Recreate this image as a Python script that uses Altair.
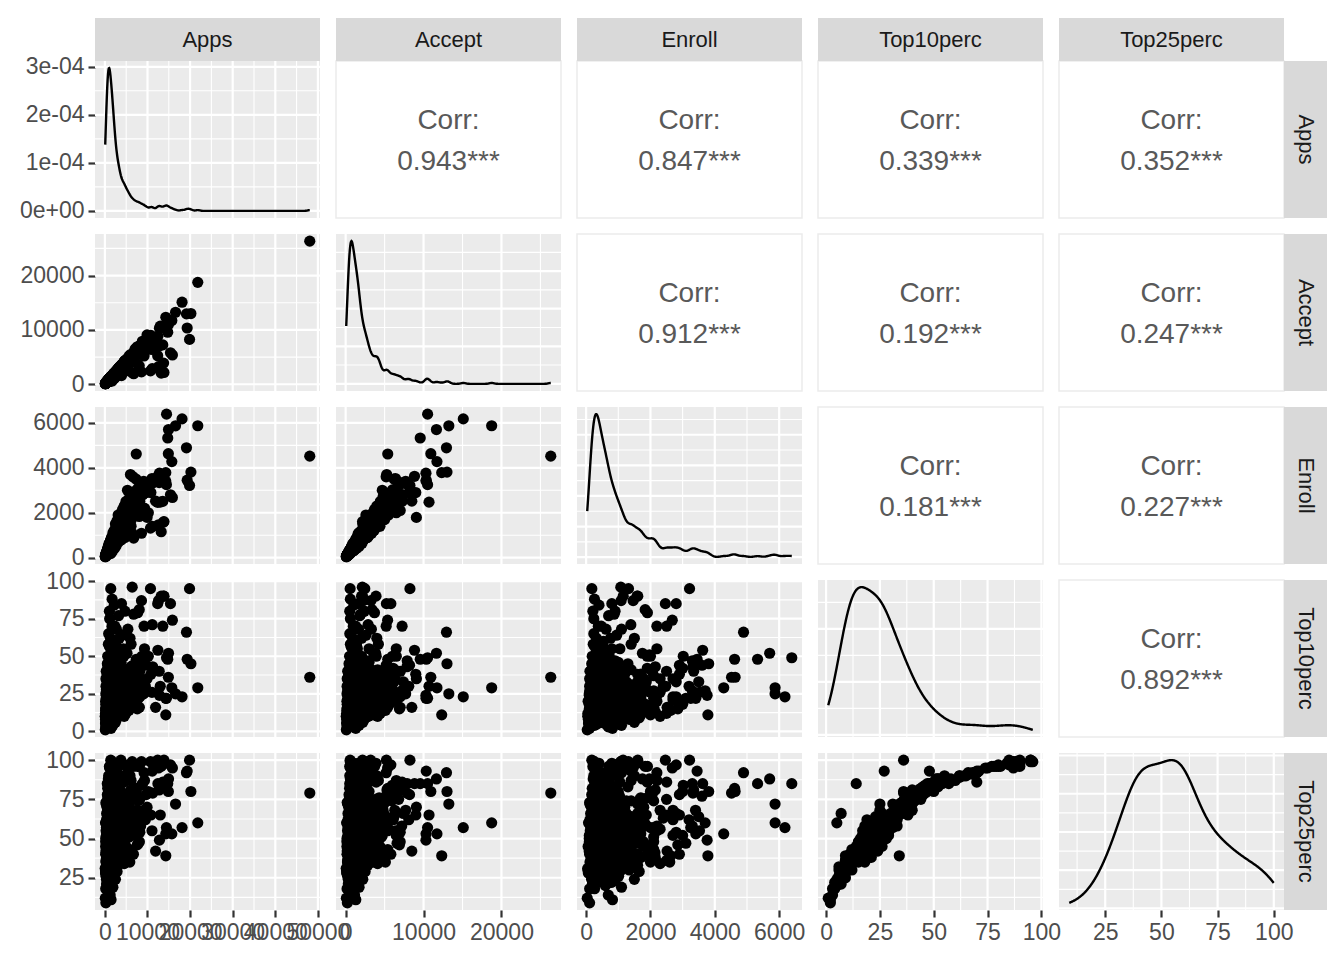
import altair as alt
import numpy as np
import pandas as pd

var_names = ["Apps", "Accept", "Enroll", "Top10perc", "Top25perc"]

apps = [
    48094, 21804, 20192, 19873, 19315, 19152, 18114, 16587, 15849, 15712,
    14939, 14901, 14752, 14474, 14446, 14292, 14300, 13865, 13789, 13594,
    13218, 12809, 12749, 12586, 12445, 11054, 11220, 10705, 12394, 11901,
    11115, 15400, 13000, 10200, 10800,
    5100, 5250, 5400, 5550, 5700, 5850, 6000, 6150, 6300, 6411,
    6500, 6700, 6756, 6900, 7100, 7365, 7500, 7700, 7850, 8065,
    8200, 8400, 8587, 8700, 8900, 9100, 9300, 9500, 9700, 9900,
    5300, 5900, 6600, 7300, 8100, 9200,
    81, 100, 141, 152, 178, 191, 202, 227, 233, 245,
    257, 268, 285, 297, 305, 318, 333, 346, 358, 372,
    385, 397, 410, 422, 436, 448, 461, 475, 486, 497,
    505, 512, 520, 528, 536, 545, 553, 561, 570, 578,
    587, 595, 604, 612, 621, 630, 638, 647, 655, 664,
    672, 681, 690, 698, 707, 716, 724, 733, 742, 750,
    759, 768, 776, 785, 794, 803, 812, 821, 830, 839,
    848, 857, 866, 875, 884, 893, 902, 912, 921, 930,
    940, 950, 960, 975, 990,
    1005, 1020, 1034, 1050, 1066, 1081, 1097, 1113, 1130, 1146,
    1163, 1180, 1197, 1215, 1232, 1250, 1268, 1287, 1305, 1324,
    1343, 1377, 1382, 1402, 1422, 1443, 1463, 1484, 1505, 1527,
    1549, 1571, 1594, 1617, 1640, 1664, 1688, 1712, 1737, 1762,
    1788, 1814, 1840, 1867, 1894, 1921, 1949, 1977, 1990, 1060,
    1240, 1450, 1700, 1120, 1880,
    2010, 2050, 2090, 2130, 2170, 2210, 2250, 2290, 2330, 2339,
    2380, 2420, 2470, 2510, 2560, 2600, 2650, 2700, 2750, 2800,
    2850, 2900, 2950, 3000, 3050, 3100, 3150, 3200, 3250, 3300,
    3350, 3400, 3450, 3480, 2200, 2620, 3120, 2480, 3380, 2860,
    3520, 3580, 3640, 3700, 3760, 3820, 3880, 3950, 4010, 4080,
    4150, 4220, 4300, 4380, 4460, 4540, 4620, 4700, 4780, 4860,
    4940, 3900,
    420, 610, 780, 950, 1150, 1350, 1600, 1850, 2100, 2400,
    300, 520, 700, 880, 1050, 1260, 1480, 1720, 1950, 2250,
    2600, 4200, 3300, 4700, 6200, 7400, 620, 820, 1020, 1220,
    1420, 1620, 1820, 2020, 2220, 2520, 4650, 3120, 4450, 5600,
    360, 560, 760, 960, 1160, 1360, 1560, 1760, 1960, 2160,
    2460, 4400, 3060, 3460, 5650, 6800, 8200, 480, 680, 880,
    1080, 1280, 1480, 1680, 1880, 2080, 2380, 4100, 5200, 3280,
    4150, 7600, 5300, 7800, 250, 450, 650, 850, 1050, 1250,
    1450, 1650, 1850, 2050, 2350, 5500, 4800, 3250, 4950, 6500,
    560, 760, 960, 1160, 1360, 1560, 1760, 1960, 2160, 2460,
    4300, 3060, 3460, 6650, 5900, 650, 850, 1050, 1250, 1450,
    1650, 1850, 2050, 2250, 4550, 5800, 3150, 4350, 5450, 8800,
    540, 740, 940, 1140, 1340, 1540, 1740, 1940, 2140, 2440,
    4900, 3040, 3440, 5350, 6100, 590, 790, 990, 1190, 1390,
    1590, 1790, 1990, 2290, 4250, 5150, 3190, 4600, 5000, 7100,
    180, 240, 310, 390, 460, 530, 590, 660, 720, 790,
    850, 910, 970, 1030, 1090, 1150, 1210, 1270, 1330, 1390,
    1450, 1510, 1570, 1630, 1690, 1750, 1810, 1870, 1930, 1990,
    2100, 2220, 2340, 2460, 2580, 2700, 2820, 2940, 3060, 3180,
    3300, 3450, 3600, 3800, 4000, 4250, 4500, 4800, 5200, 5700,
    200, 280, 350, 430, 500, 570, 640, 710, 780, 860,
    930, 1000, 1070, 1140, 1210, 1280, 1350, 1420, 1490, 1560,
    1630, 1700, 1780, 1860, 1940, 2020, 2150, 2280, 2410, 2540,
    2670, 2800, 2930, 3060, 3200, 3350, 3500, 3700, 3900, 4100,
    150, 220, 290, 370, 450, 520, 600, 680, 760, 840,
    920, 1010, 1100, 1190, 1280, 1370, 1460, 1550, 1640, 1730,
    1820, 1910, 2000, 2130, 2260, 2390, 2520, 2650, 2780, 2910,
]

accept = [
    26330, 18744, 13007, 8252, 10344, 12940, 15096, 13243, 5384, 11719,
    11652, 10932, 9572, 10519, 10516, 10315, 12330, 2165, 3893, 7244,
    2042, 10308, 7025, 3239, 8836, 6397, 7871, 2453, 5232, 8492,
    2881, 5800, 10700, 6500, 9000,
    4300, 4600, 3300, 4800, 4900, 5100, 5270, 4200, 5400, 2140,
    5500, 5800, 1930, 5900, 6100, 5402, 6300, 3700, 6600, 3384,
    6800, 7200, 2273, 6000, 7400, 7700, 6500, 8100, 8200, 9080,
    4700, 4000, 5200, 6200, 7000, 5200,
    72, 90, 118, 128, 160, 165, 184, 172, 217, 208,
    183, 253, 231, 280, 272, 260, 301, 290, 320, 301,
    341, 356, 298, 370, 389, 402, 398, 412, 420, 450,
    445, 470, 389, 481, 452, 500, 469, 520, 491, 430,
    534, 522, 489, 570, 540, 583, 557, 586, 500, 611,
    590, 620, 561, 650, 624, 630, 512, 680, 651, 702,
    660, 590, 722, 688, 712, 730, 605, 752, 731, 780,
    700, 790, 762, 741, 530, 831, 790, 845, 760, 870,
    827, 880, 801, 903, 860,
    890, 940, 780, 960, 920, 1002, 935, 1021, 980, 720,
    1070, 1032, 990, 1120, 1080, 1160, 1090, 1150, 890, 1220,
    1170, 572, 1250, 1150, 1320, 1260, 1330, 1190, 1390, 1330,
    1380, 1240, 1480, 1410, 1460, 980, 1550, 1490, 1560, 1390,
    1650, 1590, 1650, 1200, 1730, 1680, 1750, 1600, 1830, 520,
    1140, 1300, 600, 610, 1720,
    1780, 1880, 1560, 1920, 1900, 2050, 1950, 1480, 2110, 1280,
    2100, 2200, 1900, 2260, 2280, 2390, 2300, 1650, 2450, 2390,
    2600, 2500, 2050, 2700, 2700, 2830, 2700, 1800, 2900, 2850,
    3050, 2900, 2400, 3100, 1050, 1400, 2600, 2200, 2050, 2500,
    3050, 3200, 2700, 3300, 3200, 3500, 3350, 2600, 3550, 3450,
    3700, 3650, 3000, 3900, 3850, 4100, 3950, 2400, 4200, 4100,
    4450, 1600,
    350, 420, 690, 520, 1010, 900, 1350, 1100, 1700, 1500,
    240, 310, 640, 800, 700, 1000, 1050, 1600, 1400, 2000,
    2100, 3330, 2600, 3680, 5000, 6100, 550, 610, 880, 1080,
    1100, 1500, 1560, 1500, 1900, 1800, 4290, 2400, 3920, 4300,
    330, 480, 560, 900, 850, 1250, 1200, 1450, 1800, 1600,
    2200, 3500, 2500, 2800, 5120, 5400, 7000, 430, 520, 760,
    1000, 920, 1400, 1300, 1600, 1900, 1700, 3670, 3840, 3000,
    2900, 6900, 4000, 5900, 200, 400, 600, 650, 950, 1150,
    1250, 1200, 1700, 1600, 2100, 4150, 4390, 2500, 4340, 4800,
    520, 720, 750, 1100, 1050, 1450, 1300, 1500, 2000, 1900,
    3900, 2800, 2700, 5700, 5400, 480, 810, 850, 1000, 1350,
    1450, 1450, 1850, 1800, 4100, 4680, 2900, 3550, 4400, 7900,
    410, 680, 860, 960, 1150, 1300, 1650, 1650, 1800, 2250,
    4110, 2600, 3200, 3900, 5300, 540, 720, 820, 1120, 1200,
    1350, 1600, 1700, 2100, 3610, 4450, 2700, 4230, 4300, 6500,
    150, 200, 270, 300, 400, 430, 520, 540, 610, 700,
    760, 700, 900, 820, 980, 1000, 950, 1150, 1100, 1200,
    1300, 1250, 1400, 1350, 1500, 1400, 1600, 1500, 1700, 1600,
    1800, 1900, 1950, 2200, 2100, 2300, 2400, 2500, 2600, 2700,
    2800, 2900, 3100, 3000, 3500, 3300, 3800, 3900, 4200, 4600,
    180, 250, 290, 380, 420, 500, 530, 640, 680, 720,
    820, 870, 1000, 950, 1100, 1050, 1250, 1150, 1380, 1300,
    1450, 1550, 1500, 1700, 1650, 1800, 1750, 2000, 2100, 2150,
    2300, 2500, 2400, 2700, 2600, 2900, 3000, 3100, 3300, 3400,
    130, 190, 240, 330, 380, 470, 560, 590, 700, 740,
    850, 900, 1020, 1050, 1150, 1200, 1350, 1300, 1500, 1550,
    1600, 1750, 1700, 1900, 2000, 2050, 2200, 2350, 2400, 2500,
]

enroll = [
    4520, 5874, 3810, 3215, 3450, 4893, 6180, 5873, 2678, 4277,
    5705, 4631, 5329, 6392, 3252, 3409, 3785, 1606, 1583, 2505,
    1153, 3761, 3343, 1462, 3623, 3524, 3320, 1317, 2464, 2517,
    1390, 2800, 2473, 2000, 2900,
    1600, 2200, 1100, 2000, 1700, 2600, 3700, 1400, 2200, 1078,
    1900, 2900, 871, 2400, 2700, 4615, 2300, 1906, 3100, 1836,
    2500, 3300, 1087, 3019, 2800, 3400, 2200, 3200, 2900, 1792,
    3000, 1500, 3600, 3500, 2100, 2200,
    51, 35, 55, 75, 100, 63, 122, 98, 109, 125,
    109, 166, 121, 175, 144, 120, 189, 154, 180, 153,
    195, 181, 140, 230, 211, 173, 220, 245, 201, 263,
    212, 290, 172, 267, 198, 316, 220, 275, 237, 175,
    330, 250, 206, 308, 260, 348, 227, 285, 190, 362,
    274, 320, 239, 390, 301, 255, 201, 402, 276, 350,
    310, 231, 430, 290, 355, 318, 222, 447, 300, 381,
    275, 468, 340, 301, 240, 452, 335, 402, 290, 489,
    350, 420, 305, 512, 372,
    388, 520, 300, 450, 370, 580, 341, 462, 402, 280,
    610, 430, 352, 560, 470, 700, 395, 505, 320, 640,
    470, 178, 560, 420, 780, 510, 590, 405, 720, 540,
    620, 455, 860, 580, 700, 380, 810, 600, 690, 490,
    920, 640, 750, 420, 880, 650, 780, 570, 1010, 210,
    690, 820, 260, 240, 1100,
    680, 980, 560, 850, 720, 1150, 760, 540, 1020, 470,
    820, 1190, 650, 960, 860, 1340, 900, 620, 1100, 850,
    1420, 990, 720, 1300, 980, 1600, 1080, 700, 1250, 1050,
    1700, 1150, 900, 1450, 400, 520, 1900, 1500, 760, 1650,
    1250, 1600, 900, 1400, 1150, 2000, 1300, 950, 1500, 1200,
    2150, 1400, 1050, 1700, 1400, 2300, 1500, 900, 1850, 1400,
    2500, 800,
    190, 150, 420, 210, 350, 520, 420, 600, 500, 900,
    130, 120, 230, 520, 300, 300, 600, 650, 420, 700,
    1000, 1090, 1200, 2030, 1700, 3000, 300, 250, 480, 380,
    450, 800, 520, 720, 1000, 600, 2140, 900, 1900, 1850,
    160, 260, 200, 610, 330, 760, 380, 600, 850, 550,
    780, 1670, 1400, 1000, 2630, 2100, 2800, 140, 330, 280,
    640, 420, 700, 460, 900, 620, 1100, 1220, 1750, 1700,
    1040, 2850, 2300, 2100, 110, 250, 210, 380, 300, 540,
    480, 700, 650, 1050, 640, 1870, 1790, 1300, 1490, 2700,
    180, 460, 300, 500, 320, 900, 520, 800, 1200, 700,
    1560, 900, 1400, 2050, 2100, 180, 420, 400, 560, 500,
    620, 500, 900, 800, 1780, 1730, 1500, 1470, 1400, 3300,
    200, 300, 350, 560, 430, 550, 780, 560, 700, 1100,
    1610, 1100, 1400, 1670, 2150, 270, 350, 330, 650, 420,
    700, 600, 780, 900, 1970, 1690, 1000, 2050, 1700, 2700,
    80, 95, 140, 120, 190, 160, 260, 210, 250, 330,
    300, 260, 450, 300, 520, 360, 400, 600, 380, 500,
    600, 420, 700, 480, 750, 520, 820, 560, 900, 640,
    700, 900, 650, 1100, 800, 1000, 1200, 850, 1300, 950,
    1100, 1400, 1200, 1000, 1700, 1250, 1500, 2000, 1600, 2100,
    110, 150, 100, 210, 170, 270, 200, 330, 240, 380,
    420, 330, 560, 380, 620, 420, 700, 450, 800, 520,
    560, 800, 600, 900, 620, 1000, 650, 1050, 760, 1150,
    1200, 900, 1350, 1000, 1500, 1100, 1300, 1600, 1250, 1800,
    70, 110, 130, 170, 230, 200, 310, 260, 380, 300,
    380, 450, 400, 560, 480, 650, 520, 720, 600, 820,
    720, 600, 900, 680, 1000, 750, 1100, 820, 1250, 900,
]

top10 = [
    36, 29, 45, 95, 48, 66, 23, 25, 74, 29,
    52, 36, 48, 49, 22, 22, 11, 90, 90, 70,
    90, 24, 40, 87, 54, 26, 43, 95, 85, 16,
    71, 85, 30, 50, 38,
    33, 20, 68, 26, 38, 15, 27, 58, 24, 96,
    42, 19, 78, 30, 23, 48, 35, 79, 22, 81,
    40, 27, 87, 50, 33, 25, 55, 30, 44, 35,
    18, 62, 44, 33, 16, 70,
    10, 1, 12, 5, 15, 20, 9, 25, 2, 14,
    30, 6, 18, 11, 22, 40, 8, 16, 12, 28,
    7, 19, 35, 10, 23, 15, 26, 13, 31, 4,
    17, 9, 38, 12, 21, 6, 27, 14, 19, 45,
    10, 23, 33, 8, 16, 5, 25, 18, 50, 11,
    20, 13, 29, 7, 22, 17, 42, 9, 24, 15,
    20, 36, 6, 27, 14, 19, 58, 10, 23, 12,
    32, 8, 21, 26, 65, 11, 18, 15, 30, 7,
    24, 13, 35, 9, 20,
    16, 8, 41, 13, 22, 6, 29, 17, 24, 56,
    10, 19, 33, 12, 21, 7, 27, 18, 62, 11,
    23, 95, 15, 37, 5, 25, 16, 44, 9, 21,
    14, 31, 8, 26, 19, 70, 12, 22, 17, 39,
    7, 28, 15, 53, 10, 24, 18, 33, 6, 80,
    3, 2, 88, 75, 4,
    27, 12, 46, 19, 30, 9, 23, 60, 16, 70,
    27, 11, 40, 20, 28, 8, 24, 68, 17, 34,
    13, 26, 50, 18, 31, 10, 22, 77, 16, 29,
    12, 24, 45, 20, 84, 57, 15, 6, 62, 9,
    25, 14, 47, 21, 36, 11, 26, 64, 19, 38,
    13, 28, 55, 22, 30, 10, 27, 80, 18, 41,
    12, 85,
    15, 22, 9, 31, 36, 25, 12, 35, 20, 44,
    16, 27, 11, 6, 29, 16, 38, 14, 32, 33,
    14, 36, 26, 16, 33, 42, 20, 37, 15, 23,
    31, 11, 12, 27, 40, 38, 13, 30, 50, 29,
    12, 10, 33, 8, 26, 10, 36, 36, 16, 30,
    46, 16, 17, 34, 14, 27, 23, 34, 9, 24,
    9, 28, 13, 32, 39, 25, 12, 29, 52, 11,
    40, 15, 26, 37, 35, 8, 16, 30, 43, 14,
    24, 27, 10, 37, 26, 33, 16, 45, 28, 35,
    12, 15, 27, 11, 35, 6, 29, 55, 13, 31,
    15, 22, 26, 40, 16, 34, 10, 33, 11, 25,
    38, 30, 14, 28, 17, 25, 12, 24, 31, 47,
    24, 13, 10, 12, 26, 41, 9, 34, 22, 34,
    27, 16, 21, 38, 43, 18, 22, 25, 11, 36,
    16, 26, 23, 10, 51, 28, 32, 15, 38, 21,
    6, 18, 12, 27, 9, 33, 15, 22, 44, 11,
    20, 38, 8, 25, 14, 30, 19, 5, 48, 23,
    12, 28, 17, 40, 7, 22, 35, 16, 10, 26,
    19, 13, 31, 9, 24, 42, 16, 27, 11, 36,
    21, 14, 29, 46, 18, 33, 25, 15, 38, 22,
    3, 11, 24, 7, 16, 21, 35, 12, 28, 19,
    13, 26, 9, 20, 31, 17, 4, 24, 14, 52,
    23, 10, 18, 27, 34, 15, 21, 8, 30, 19,
    12, 25, 17, 33, 22, 10, 28, 20, 41, 16,
    8, 14, 20, 5, 26, 11, 17, 39, 13, 23,
    16, 22, 30, 12, 19, 25, 7, 43, 21, 15,
    26, 18, 11, 32, 20, 14, 24, 37, 17, 29,
]

top25 = [
    79, 60, 80, 100, 93, 92, 57, 72, 95, 53,
    88, 80, 85, 85, 57, 53, 39, 100, 98, 86,
    96, 49, 81, 95, 85, 55, 79, 99, 100, 42,
    93, 97, 65, 80, 65,
    66, 58, 92, 57, 72, 35, 60, 87, 55, 99,
    76, 40, 96, 63, 62, 82, 68, 96, 47, 96,
    75, 58, 99, 84, 66, 68, 87, 62, 78, 70,
    52, 90, 77, 64, 48, 92,
    31, 12, 30, 60, 48, 45, 28, 50, 9, 40,
    60, 26, 35, 32, 51, 72, 29, 50, 37, 57,
    21, 38, 66, 34, 52, 44, 45, 36, 72, 18,
    45, 30, 70, 38, 40, 24, 58, 85, 46, 78,
    33, 62, 62, 30, 41, 22, 45, 47, 82, 35,
    60, 39, 61, 66, 48, 55, 76, 31, 54, 42,
    38, 68, 25, 59, 37, 62, 88, 34, 53, 41,
    64, 28, 38, 57, 90, 33, 58, 43, 62, 26,
    42, 38, 67, 32, 56,
    44, 29, 74, 40, 60, 23, 52, 45, 55, 86,
    35, 40, 65, 39, 58, 28, 58, 47, 89, 33,
    44, 100, 41, 70, 22, 56, 46, 77, 31, 49,
    43, 63, 27, 66, 45, 93, 37, 54, 52, 72,
    25, 50, 42, 85, 36, 53, 48, 66, 26, 96,
    14, 11, 99, 95, 19,
    59, 39, 79, 48, 62, 32, 55, 87, 44, 92,
    93, 36, 73, 50, 61, 30, 53, 91, 45, 39,
    37, 57, 83, 49, 64, 33, 52, 96, 43, 63,
    38, 55, 78, 51, 98, 85, 40, 24, 90, 29,
    56, 40, 80, 51, 100, 35, 58, 90, 47, 70,
    38, 61, 86, 53, 64, 34, 59, 97, 46, 74,
    36, 98,
    46, 52, 39, 57, 74, 47, 43, 66, 56, 82,
    45, 59, 36, 32, 63, 47, 76, 41, 61, 70,
    45, 68, 57, 43, 65, 80, 50, 72, 45, 56,
    59, 38, 40, 57, 78, 72, 41, 61, 86, 59,
    41, 35, 63, 30, 56, 34, 70, 74, 45, 61,
    84, 47, 43, 66, 39, 57, 54, 71, 36, 56,
    36, 59, 41, 63, 77, 57, 40, 61, 88, 38,
    77, 46, 56, 74, 73, 27, 45, 63, 80, 43,
    57, 59, 37, 75, 57, 65, 45, 83, 61, 68,
    38, 41, 57, 39, 72, 23, 61, 90, 39, 63,
    47, 52, 57, 78, 43, 66, 34, 70, 38, 56,
    76, 61, 41, 59, 48, 57, 36, 54, 63, 85,
    56, 43, 38, 39, 59, 79, 30, 66, 52, 72,
    57, 46, 52, 75, 81, 48, 54, 57, 38, 74,
    45, 57, 56, 37, 88, 59, 63, 43, 76, 52,
    30, 42, 35, 62, 25, 58, 47, 60, 75, 40,
    55, 70, 28, 48, 43, 66, 38, 20, 85, 64,
    34, 58, 52, 68, 26, 45, 72, 40, 36, 61,
    50, 38, 63, 32, 56, 77, 44, 59, 35, 70,
    53, 40, 60, 80, 47, 66, 57, 43, 72, 51,
    18, 36, 52, 27, 44, 50, 68, 37, 54, 49,
    41, 57, 30, 52, 61, 46, 22, 53, 39, 83,
    55, 33, 49, 64, 67, 44, 52, 29, 62, 46,
    37, 55, 48, 68, 51, 34, 58, 50, 74, 45,
    28, 40, 55, 24, 48, 35, 44, 71, 42, 57,
    47, 60, 59, 38, 50, 56, 26, 78, 52, 42,
    57, 51, 37, 65, 54, 42, 56, 69, 47, 61,
]

corr_labels = [
    ["", "0.943***", "0.847***", "0.339***", "0.352***"],
    ["", "", "0.912***", "0.192***", "0.247***"],
    ["", "", "", "0.181***", "0.227***"],
    ["", "", "", "", "0.892***"],
    ["", "", "", "", ""],
]

major_breaks = {
    "Apps": [0, 10000, 20000, 30000, 40000, 50000],
    "Accept": [0, 10000, 20000],
    "Enroll": [0, 2000, 4000, 6000],
    "Top10perc": [0, 25, 50, 75, 100],
    "Top25perc": [0, 25, 50, 75, 100],
}
minor_breaks = {
    "Apps": [5000, 15000, 25000, 35000, 45000],
    "Accept": [5000, 15000, 25000],
    "Enroll": [1000, 3000, 5000],
    "Top10perc": [12.5, 37.5, 62.5, 87.5],
    "Top25perc": [12.5, 37.5, 62.5, 87.5],
}
apps_density_labels = ["0e+00", "1e-04", "2e-04", "3e-04"]
bandwidth = {"Apps": 480, "Accept": 310, "Enroll": 112, "Top10perc": 5.0, "Top25perc": 6.5}

lengths = {len(apps), len(accept), len(enroll), len(top10), len(top25)}
assert len(lengths) == 1, lengths

df = pd.DataFrame({"Apps": apps, "Accept": accept, "Enroll": enroll,
                   "Top10perc": top10, "Top25perc": top25})

W, H = 225, 157
STRIP = 43
BG = "#EBEBEB"
FONT = "Liberation Sans"
MAJ, MIN = 2.2, 1.1


def domain(v):
    lo, hi = float(df[v].min()), float(df[v].max())
    r = hi - lo
    return [lo - 0.05 * r, hi + 0.05 * r]


def kde_range(v):
    vals = df[v].to_numpy(float)
    bw = bandwidth[v]
    xs = np.linspace(vals.min(), vals.max(), 512)
    d = np.exp(-0.5 * ((xs[:, None] - vals[None, :]) / bw) ** 2).sum(1)
    d = d / (len(vals) * bw * np.sqrt(2 * np.pi))
    return float(d.min()), float(d.max())


def nice_breaks(lo, hi, max_n=5):
    k = 10 ** np.floor(np.log10(hi - lo)) / 100
    for _ in range(8):
        for m in (1, 2, 2.5, 5):
            s = m * k
            t = np.arange(np.ceil(lo / s) * s, hi + 1e-15, s)
            if len(t) <= max_n:
                majors = [float(x) for x in t]
                minors = [float(x + s / 2) for x in [t[0] - s] + list(t) if lo <= x + s / 2 <= hi]
                return majors, minors
        k *= 10


doms = {v: domain(v) for v in var_names}


def inside(vals, dom):
    return [b for b in vals if dom[0] <= b <= dom[1]]


def rules(field, vals, channel, scale, axis, width):
    data = pd.DataFrame({field: vals})
    if channel == "x":
        enc = {"x": alt.X(f"{field}:Q", scale=scale, axis=axis)}
    else:
        enc = {"y": alt.Y(f"{field}:Q", scale=scale, axis=axis)}
    return alt.Chart(data).mark_rule(color="white", strokeWidth=width).encode(**enc)


def strips(i, j):
    out = []
    if i == 0:
        lab = pd.DataFrame({"lab": [var_names[j]]})
        out.append(alt.Chart(lab).mark_rect(color="#D9D9D9").encode(
            x=alt.value(0), x2=alt.value(W), y=alt.value(-STRIP), y2=alt.value(0)))
        out.append(alt.Chart(lab).mark_text(font=FONT, fontSize=22, color="#1A1A1A").encode(
            text="lab:N", x=alt.value(W / 2), y=alt.value(-STRIP / 2)))
    if j == 4:
        lab = pd.DataFrame({"lab": [var_names[i]]})
        out.append(alt.Chart(lab).mark_rect(color="#D9D9D9").encode(
            x=alt.value(W), x2=alt.value(W + STRIP), y=alt.value(0), y2=alt.value(H)))
        out.append(alt.Chart(lab).mark_text(font=FONT, fontSize=22, color="#1A1A1A", angle=90).encode(
            text="lab:N", x=alt.value(W + STRIP / 2), y=alt.value(H / 2)))
    return out


def var_axis(v, show):
    if not show:
        return None
    return alt.Axis(values=inside(major_breaks[v], doms[v]), title=None, grid=False, domain=False,
                    labelOverlap=False, labelFlush=False, format="d")


panels = []
for i, yv in enumerate(var_names):
    for j, xv in enumerate(var_names):
        layers = []
        if i < j:
            txt = pd.DataFrame({"t": ["Corr:\n" + corr_labels[i][j]]})
            layers.append(alt.Chart(txt).mark_text(
                font=FONT, fontSize=28, color="#595959", lineBreak="\n", lineHeight=41,
                align="center", baseline="middle").encode(
                text="t:N", x=alt.value(W / 2), y=alt.value(H / 2 - 19)))
            layers += strips(i, j)
            ch = alt.layer(*layers).properties(
                width=W, height=H,
                view=alt.ViewBackground(fill="white", stroke=BG, strokeWidth=1.5))
            panels.append(ch)
            continue

        xs = alt.Scale(domain=doms[xv], nice=False, zero=False)
        xa = var_axis(xv, i == 4)
        layers.append(rules(xv, inside(minor_breaks[xv], doms[xv]), "x", xs, xa, MIN))
        layers.append(rules(xv, inside(major_breaks[xv], doms[xv]), "x", xs, xa, MAJ))

        if i == j:
            dmin, dmax = kde_range(xv)
            r = dmax - dmin
            ydom = [dmin - 0.05 * r, dmax + 0.05 * r]
            ys = alt.Scale(domain=ydom, nice=False, zero=False)
            dmaj, dmin_b = nice_breaks(ydom[0], ydom[1])
            if i == 0:
                expr = "[" + ",".join(f"'{s}'" for s in apps_density_labels) + "][round(datum.value*10000)]"
                ya = alt.Axis(values=dmaj, title=None, grid=False, domain=False, labelExpr=expr)
            else:
                ya = None
            layers.append(rules("density", dmin_b, "y", ys, ya, MIN))
            layers.append(rules("density", dmaj, "y", ys, ya, MAJ))
            lo, hi = float(df[xv].min()), float(df[xv].max())
            layers.append(alt.Chart(df).transform_density(
                xv, as_=[xv, "density"], bandwidth=bandwidth[xv], extent=[lo, hi], steps=512
            ).mark_line(color="black", strokeWidth=2.4).encode(
                x=alt.X(f"{xv}:Q", scale=xs, axis=xa),
                y=alt.Y("density:Q", scale=ys, axis=ya)))
        else:
            ys = alt.Scale(domain=doms[yv], nice=False, zero=False)
            ya = var_axis(yv, j == 0)
            layers.append(rules(yv, inside(minor_breaks[yv], doms[yv]), "y", ys, ya, MIN))
            layers.append(rules(yv, inside(major_breaks[yv], doms[yv]), "y", ys, ya, MAJ))
            layers.append(alt.Chart(df).mark_circle(size=125, color="black", opacity=1).encode(
                x=alt.X(f"{xv}:Q", scale=xs, axis=xa),
                y=alt.Y(f"{yv}:Q", scale=ys, axis=ya)))
        layers += strips(i, j)
        ch = alt.layer(*layers).properties(width=W, height=H,
                                           view=alt.ViewBackground(fill=BG))
        panels.append(ch)

chart = alt.concat(*panels, columns=5, spacing=16, bounds="flush").properties(
    padding={"left": 11, "top": 9, "right": 5, "bottom": 5},
    background="white",
).configure_view(strokeWidth=0).configure_axis(
    labelFont=FONT, labelFontSize=23, labelColor="#4D4D4D", tickColor="#333333",
    tickWidth=2.2, tickSize=7, labelPadding=4, domain=False, grid=False
)

chart.save("out.html", embed_options={"renderer": "svg", "actions": False})
